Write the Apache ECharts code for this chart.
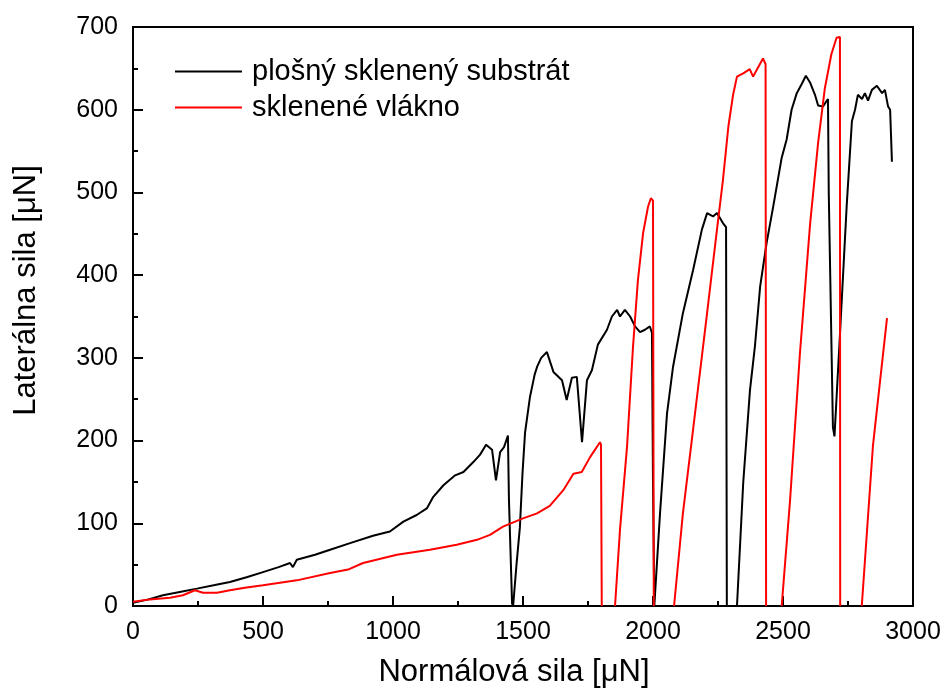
<!DOCTYPE html>
<html>
<head>
<meta charset="utf-8">
<script src="https://cdn.jsdelivr.net/npm/echarts@6/dist/echarts.min.js"></script>
<style>
html, body { margin: 0; padding: 0; background: #fff; }
#chart { width: 945px; height: 695px; }
</style>
</head>
<body>
<div id="chart"></div>
<script>
// plošný sklenený substrát (black)
var flatX = [0, 60, 115, 180, 246, 310, 373, 440, 500, 560, 604, 615, 630, 700, 758, 835, 923, 988, 1040, 1091, 1130, 1155, 1194, 1239, 1271, 1309, 1335, 1358, 1381, 1396, 1412, 1427, 1442, 1446, 1458, 1462, 1475, 1488, 1498, 1508, 1527, 1545, 1554, 1570, 1592, 1617, 1650, 1668, 1688, 1707, 1727, 1746, 1765, 1788, 1823, 1842, 1862, 1873, 1892, 1912, 1931, 1950, 1969, 1988, 1996, 2000, 2005, 2027, 2054, 2077, 2115, 2154, 2188, 2208, 2231, 2246, 2269, 2281, 2284, 2300, 2323, 2347, 2373, 2392, 2412, 2437, 2463, 2495, 2514, 2533, 2553, 2572, 2588, 2604, 2623, 2635, 2654, 2673, 2676, 2692, 2698, 2719, 2745, 2765, 2777, 2788, 2804, 2815, 2827, 2842, 2861, 2881, 2892, 2904, 2912, 2919];
var flatY = [4, 8, 13, 17, 21, 25, 29, 35, 41, 47, 52, 47, 56, 62, 68, 76, 85, 90, 102, 110, 118, 132, 146, 158, 162, 174, 183, 195, 189, 152, 186, 192, 206, 128, 3, 0, 50, 95, 160, 210, 253, 280, 289, 300, 307, 283, 273, 249, 276, 277, 198, 273, 285, 316, 334, 350, 358, 350, 358, 350, 338, 331, 334, 338, 330, 150, 0, 112, 233, 289, 354, 406, 455, 475, 471, 475, 463, 458, 0, null, 0, 149, 261, 314, 386, 439, 484, 542, 564, 600, 620, 631, 641, 633, 618, 605, 604, 613, 500, 216, 205, 328, 484, 586, 600, 618, 613, 620, 611, 624, 629, 620, 624, 604, 600, 537];

// sklenené vlákno (red)
var fiberX = [0, 65, 142, 192, 238, 269, 323, 373, 430, 500, 630, 758, 827, 885, 1015, 1142, 1245, 1323, 1373, 1423, 1500, 1554, 1603, 1655, 1694, 1726, 1758, 1796, 1800, 1803, 1830, 1854, 1873, 1900, 1923, 1942, 1962, 1981, 1992, 2000, 2003, 2040, 2081, 2115, 2154, 2208, 2246, 2269, 2290, 2308, 2323, 2347, 2372, 2385, 2404, 2423, 2433, 2435, 2465, 2495, 2527, 2565, 2604, 2635, 2661, 2686, 2706, 2719, 2720, 2760, 2803, 2846, 2900];
var fiberY = [5, 8, 10, 13, 19, 16, 16, 19, 22, 25, 31, 40, 44, 52, 62, 68, 74, 80, 86, 96, 106, 112, 121, 140, 160, 162, 180, 198, 195, 0, null, 0, 92, 192, 313, 394, 451, 483, 493, 490, 0, null, 0, 112, 213, 354, 455, 515, 580, 618, 640, 644, 649, 640, 651, 662, 655, 0, null, 0, 127, 305, 461, 560, 626, 667, 687, 688, 0, null, 0, 194, 348];

var seriesNames = ['plošný sklenený substrát', 'sklenené vlákno'];

function pairs(xs, ys) {
    var out = [];
    for (var i = 0; i < xs.length; i++) out.push([xs[i], ys[i] === null ? '-' : ys[i]]);
    return out;
}

var font = 'Arial, "Liberation Sans", sans-serif';
var myChart = echarts.init(document.getElementById('chart'));

var option = {
    animation: false,
    backgroundColor: '#fff',
    grid: {
        left: 133, right: 32, top: 27, bottom: 89,
        show: true, borderColor: '#000', borderWidth: 2
    },
    legend: {
        orient: 'vertical',
        left: 170, top: 52,
        icon: 'rect',
        itemWidth: 67, itemHeight: 2,
        itemGap: 7,
        textStyle: { fontFamily: font, fontSize: 29, color: '#000', lineHeight: 29, padding: [0, 0, 0, 5] },
        data: seriesNames
    },
    xAxis: {
        type: 'value',
        min: 0, max: 3000, interval: 500,
        name: 'Normálová sila [μN]',
        nameLocation: 'middle',
        nameGap: 51,
        nameTextStyle: { fontFamily: font, fontSize: 31, color: '#000', padding: [0, 18, 0, 0] },
        axisLine: { lineStyle: { color: '#000', width: 2 } },
        axisTick: { inside: true, length: 10, lineStyle: { width: 2 } },
        minorTick: { show: true, splitNumber: 2, length: 5, lineStyle: { color: '#000', width: 2 } },
        axisLabel: { fontFamily: font, fontSize: 25, color: '#000', margin: 14, formatter: function (v) { return String(v); } },
        splitLine: { show: false }
    },
    yAxis: {
        type: 'value',
        min: 0, max: 700, interval: 100,
        name: 'Laterálna sila [μN]',
        nameLocation: 'middle',
        nameGap: 91,
        nameTextStyle: { fontFamily: font, fontSize: 31, color: '#000', padding: [0, 0, 0, 52] },
        axisLine: { lineStyle: { color: '#000', width: 2 } },
        axisTick: { inside: true, length: 10, lineStyle: { width: 2 } },
        minorTick: { show: true, splitNumber: 2, length: 5, lineStyle: { color: '#000', width: 2 } },
        axisLabel: { fontFamily: font, fontSize: 25, color: '#000', margin: 15, formatter: function (v) { return String(v); } },
        splitLine: { show: false }
    },
    series: [
        {
            name: seriesNames[0],
            type: 'line',
            showSymbol: false,
            connectNulls: false,
            data: pairs(flatX, flatY),
            lineStyle: { color: '#000', width: 2 },
            itemStyle: { color: '#000' }
        },
        {
            name: seriesNames[1],
            type: 'line',
            showSymbol: false,
            connectNulls: false,
            data: pairs(fiberX, fiberY),
            lineStyle: { color: '#ff0000', width: 2 },
            itemStyle: { color: '#ff0000' }
        }
    ]
};

myChart.setOption(option);
</script>
</body>
</html>
